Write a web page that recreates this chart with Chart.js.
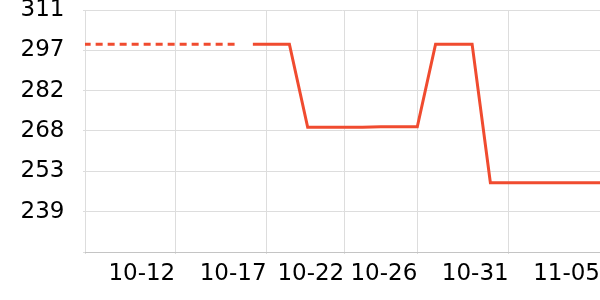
<!DOCTYPE html>
<html>
<head>
<meta charset="utf-8">
<script src="https://cdn.jsdelivr.net/npm/chart.js@4/dist/chart.umd.min.js"></script>
<style>html,body{margin:0;padding:0;background:#fff;}canvas{display:block;}</style>
</head>
<body>
<canvas id="c" width="600" height="300"></canvas>
<script>
// ---- data ----
const dashedDates = ['10-07','10-08','10-09','10-10','10-11','10-12','10-13','10-14','10-15','10-16'];
const dashedValues = [298.8,298.8,298.8,298.8,298.8,298.8,298.8,298.8,298.8,298.8];
const solidDates = ['10-17','10-18','10-19','10-20','10-21','10-22','10-23','10-24','10-25','10-26',
                    '10-27','10-28','10-29','10-30','10-31','11-01','11-02','11-03','11-04','11-05'];
const solidValues = [298.8,298.8,298.8,269.1,269.1,269.1,269.1,269.3,269.3,269.3,
                     298.8,298.8,298.8,249.3,249.3,249.3,249.3,249.3,249.3,249.3];
const xStart = '10-07 19:30';
const xEnd = '11-05';
const xTickTimes = ['10-12 18:00','10-17 18:00','10-22','10-26','10-31','11-05'];
const xTickLabels = ['10-12','10-17','10-22','10-26','10-31','11-05'];
const yTickValues = [224.6, 239, 253.4, 267.8, 282.2, 296.6, 311];
const yTickLabels = ['', '239', '253', '268', '282', '297', '311'];

function toDay(s) {
  const parts = s.split(' ');
  const md = parts[0].split('-').map(Number);
  let h = 0, mi = 0;
  if (parts[1]) { const hm = parts[1].split(':').map(Number); h = hm[0]; mi = hm[1]; }
  return Date.UTC(2023, md[0] - 1, md[1], h, mi) / 86400000;
}
const toPts = (dates, vals) => dates.map((d, i) => ({ x: toDay(d), y: vals[i] }));

const lineColor = '#F04B2F';
const FS = 23;
const xMin = toDay(xStart);
const xTickVals = [xMin].concat(xTickTimes.map(toDay));
const xLabelFor = {};
xTickTimes.forEach((t, i) => { xLabelFor[toDay(t).toFixed(4)] = xTickLabels[i]; });

new Chart(document.getElementById('c'), {
  type: 'line',
  data: {
    datasets: [
      { data: toPts(dashedDates, dashedValues), borderColor: lineColor, borderWidth: 3,
        borderDash: [7, 5], borderDashOffset: 10.5, pointRadius: 0, tension: 0, fill: false },
      { data: toPts(solidDates, solidValues), borderColor: lineColor, borderWidth: 3,
        pointRadius: 0, tension: 0, fill: false }
    ]
  },
  options: {
    responsive: false,
    animation: false,
    layout: { padding: { left: 22, top: 10, right: 0, bottom: 12.4 } },
    plugins: { legend: { display: false }, tooltip: { enabled: false } },
    scales: {
      x: {
        type: 'linear',
        min: xMin,
        max: toDay(xEnd),
        afterBuildTicks: (scale) => { scale.ticks = xTickVals.map(v => ({ value: v })); },
        afterFit: (scale) => {
          scale.height = 2 + 6 + FS * 1.2;
          scale.paddingLeft = 0; scale.paddingRight = 0;
        },
        ticks: {
          autoSkip: false, maxRotation: 0, minRotation: 0, align: 'end', padding: 6,
          color: '#000', font: { family: 'DejaVu Sans', size: FS },
          callback: (v) => xLabelFor[Number(v).toFixed(4)] || ''
        },
        grid: { color: '#dddddd', tickLength: 2, lineWidth: 1 },
        border: { color: '#c4c4c4', width: 1 }
      },
      y: {
        type: 'linear',
        min: yTickValues[0],
        max: yTickValues[yTickValues.length - 1],
        afterBuildTicks: (scale) => { scale.ticks = yTickValues.map(v => ({ value: v })); },
        afterFit: (scale) => {
          scale.width = 63;
          scale.paddingTop = 0; scale.paddingBottom = 0;
        },
        ticks: {
          padding: 18.5, color: '#000',
          font: { family: 'DejaVu Sans', size: FS },
          callback: (v, i) => yTickLabels[i]
        },
        grid: { color: '#dddddd', tickLength: 2, lineWidth: 1 },
        border: { display: false }
      }
    }
  }
});
</script>
</body>
</html>
